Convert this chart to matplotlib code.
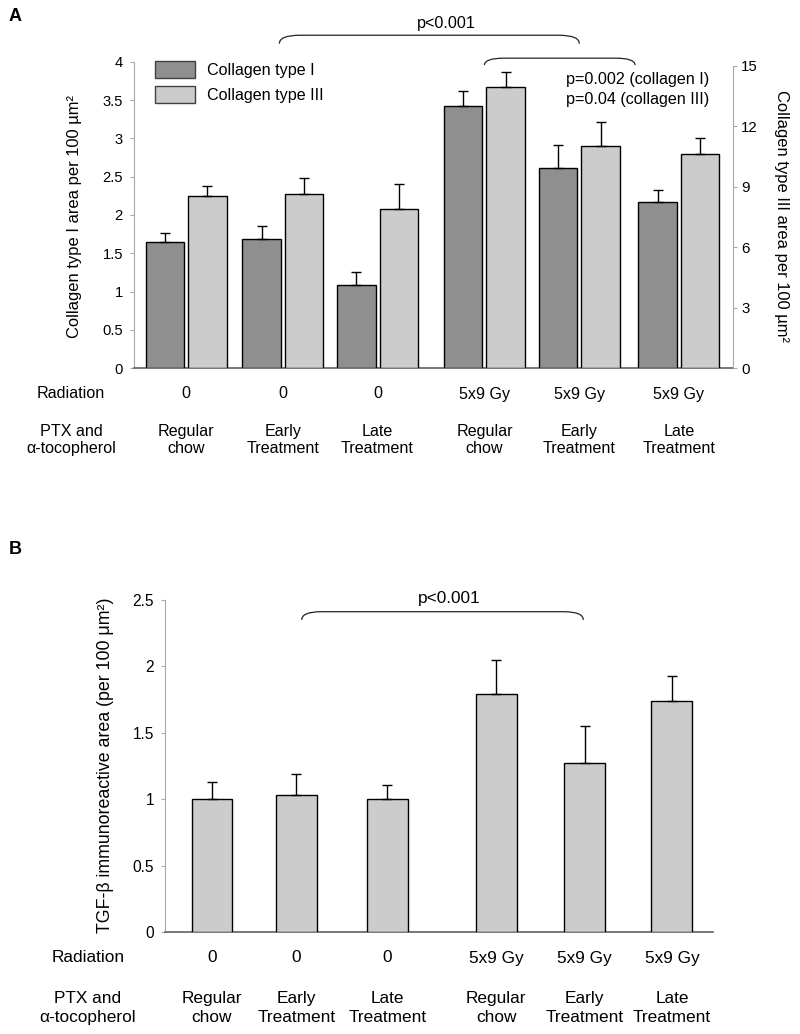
import matplotlib
matplotlib.use("Agg")
import matplotlib.pyplot as plt
import numpy as np
from matplotlib.path import Path
from matplotlib.patches import PathPatch, Patch
import matplotlib.transforms as mtransforms

plt.rcParams['font.family'] = ['Liberation Sans', 'DejaVu Sans']

W, H = 800, 1034

# ---------------- data ----------------
radiation = ["0", "0", "0", "5x9 Gy", "5x9 Gy", "5x9 Gy"]
treatment = ["Regular\nchow", "Early\nTreatment", "Late\nTreatment",
             "Regular\nchow", "Early\nTreatment", "Late\nTreatment"]

col1_mean = [1.65, 1.68, 1.09, 3.43, 2.62, 2.17]
col1_sem = [0.12, 0.17, 0.17, 0.19, 0.29, 0.16]
col3_mean = [8.52, 8.64, 7.92, 13.96, 11.05, 10.62]
col3_sem = [0.54, 0.82, 1.23, 0.76, 1.18, 0.82]

tgf_mean = [1.00, 1.03, 1.00, 1.79, 1.27, 1.74]
tgf_sem = [0.13, 0.16, 0.11, 0.26, 0.28, 0.19]

left_ticks_a = [0, 0.5, 1, 1.5, 2, 2.5, 3, 3.5, 4]
right_ticks_a = [0, 3, 6, 9, 12, 15]
ticks_b = [0, 0.5, 1, 1.5, 2, 2.5]

# ---------------- layout ----------------
pos_a = np.array([0, 1.006, 1.993, 3.107, 4.095, 5.131])
pos_b = np.array([0, 0.937, 1.948, 3.159, 4.141, 5.111])

DARK = '#8f8f8f'
LIGHT = '#cccccc'
AXGRAY = '#a8a8a8'
BOTGRAY = '#606060'

FS_A = 11.6
FS_B = 12.4

fig = plt.figure(figsize=(W / 100, H / 100), dpi=100)


def fy(y):
    return 1 - y / H


def fx(x):
    return x / W


def fmt(v):
    return ('%g' % v)


def style_axis(ax, ts):
    ax.spines['top'].set_visible(False)
    ax.spines['right'].set_visible(False)
    ax.spines['left'].set_color(AXGRAY)
    ax.spines['left'].set_linewidth(0.8)
    ax.spines['bottom'].set_color(BOTGRAY)
    ax.spines['bottom'].set_linewidth(1.2)
    ax.set_xticks([])
    ax.tick_params(axis='y', direction='out', length=3, width=0.8,
                   color=AXGRAY, labelsize=ts, pad=5)


def bracket(ax, x0, x1, ytop, yend, dx):
    verts = [(x0, yend), (x0, ytop), (x0 + dx, ytop),
             (x1 - dx, ytop), (x1, ytop), (x1, yend)]
    codes = [Path.MOVETO, Path.CURVE3, Path.CURVE3,
             Path.LINETO, Path.CURVE3, Path.CURVE3]
    p = PathPatch(Path(verts, codes), fill=False, lw=0.9, ec='#222222',
                  clip_on=False)
    ax.add_patch(p)


err_kw = dict(ecolor='black', elinewidth=1.0, capsize=3.6, capthick=1.0)

# ---------------- Panel A ----------------
axA = fig.add_axes([fx(134), fy(368), 599 / W, 306 / H])
axA2 = axA.twinx()
style_axis(axA, 10.6)
axA2.spines['top'].set_visible(False)
axA2.spines['left'].set_visible(False)
axA2.spines['bottom'].set_visible(False)
axA2.spines['right'].set_color(AXGRAY)
axA2.spines['right'].set_linewidth(0.8)
axA2.tick_params(axis='y', direction='out', length=3, width=0.8,
                 color=AXGRAY, labelsize=10.8, pad=3)

bw = 0.40
off = 0.221
zeros = np.zeros(len(col1_mean))
axA.bar(pos_a - off, col1_mean, bw, color=DARK, edgecolor='black', lw=1.0,
        yerr=[zeros, col1_sem], error_kw=err_kw, zorder=3)
axA2.bar(pos_a + off, col3_mean, bw, color=LIGHT, edgecolor='black', lw=1.0,
         yerr=[zeros, col3_sem], error_kw=err_kw, zorder=3)

axA.set_xlim(-0.544, 5.696)
axA2.set_xlim(-0.544, 5.696)
axA.set_ylim(0, 4)
axA2.set_ylim(0, 15 * 306 / 302)
axA.set_yticks(left_ticks_a)
axA.set_yticklabels([fmt(v) for v in left_ticks_a])
axA2.set_yticks(right_ticks_a)
axA2.set_yticklabels([fmt(v) for v in right_ticks_a])
axA.spines['left'].set_bounds(0, 4)
axA2.spines['right'].set_bounds(0, 15)
axA2.set_xticks([])

# brackets panel A
bracket(axA, 0.97, 4.095, 4.35, 4.24, 0.22)
bracket(axA, 3.107, 4.675, 4.05, 3.96, 0.2)
axA.text(2.706, 4.50, 'p<0.001', ha='center', va='center', fontsize=FS_A,
         clip_on=False)
axA.text(5.446, 3.765, 'p=0.002 (collagen I)', ha='right', va='center',
         fontsize=FS_A)
axA.text(5.446, 3.515, 'p=0.04 (collagen III)', ha='right', va='center',
         fontsize=FS_A)

fig.legend(handles=[Patch(fc=DARK, ec='#404040', lw=1.0),
                    Patch(fc=LIGHT, ec='#404040', lw=1.0)],
           labels=['Collagen type I', 'Collagen type III'],
           loc='upper left', bbox_to_anchor=(fx(155), fy(60.7)),
           frameon=False, borderpad=0, borderaxespad=0, handlelength=2.5,
           handleheight=1.25, handletextpad=0.7, labelspacing=0.5,
           fontsize=FS_A)

fig.text(fx(75), fy(217), 'Collagen type I area per 100 µm²', rotation=90,
         ha='center', va='center', fontsize=11.9)
fig.text(fx(782), fy(216), 'Collagen type III area per 100 µm²', rotation=270,
         ha='center', va='center', fontsize=11.9)
fig.text(fx(15.5), fy(16.5), 'A', fontsize=13, fontweight='bold',
         ha='center', va='center')

transA = mtransforms.blended_transform_factory(axA.transData, fig.transFigure)
fig.text(fx(71), fy(394), 'Radiation', ha='center', va='center', fontsize=FS_A)
fig.text(fx(71), fy(440), 'PTX and\nα-tocopherol', ha='center', va='center',
         fontsize=FS_A, linespacing=1.24)
for x, r, t in zip(pos_a, radiation, treatment):
    axA.text(x, fy(394), r, transform=transA, ha='center', va='center',
             fontsize=FS_A)
    axA.text(x, fy(440), t, transform=transA, ha='center', va='center',
             fontsize=FS_A, linespacing=1.24)

# ---------------- Panel B ----------------
axB = fig.add_axes([fx(165), fy(932.3), 548 / W, 332.3 / H])
style_axis(axB, 11.2)
axB.bar(pos_b, tgf_mean, 0.455, color=LIGHT, edgecolor='black', lw=1.0,
        yerr=[np.zeros(len(tgf_mean)), tgf_sem], error_kw=err_kw, zorder=3)
axB.set_xlim(-0.522, 5.567)
axB.set_ylim(0, 2.5)
axB.set_yticks(ticks_b)
axB.set_yticklabels([fmt(v) for v in ticks_b])

bracket(axB, 0.997, 4.126, 2.412, 2.35, 0.22)
axB.text(2.64, 2.512, 'p<0.001', ha='center', va='center', fontsize=FS_B,
         clip_on=False)

fig.text(fx(106), fy(765), 'TGF-β immunoreactive area (per 100 μm²)',
         rotation=90, ha='center', va='center', fontsize=12.8)
fig.text(fx(15), fy(550), 'B', fontsize=13, fontweight='bold',
         ha='center', va='center')

transB = mtransforms.blended_transform_factory(axB.transData, fig.transFigure)
fig.text(fx(88), fy(958), 'Radiation', ha='center', va='center', fontsize=FS_B)
fig.text(fx(88), fy(1008), 'PTX and\nα-tocopherol', ha='center', va='center',
         fontsize=FS_B, linespacing=1.3)
for x, r, t in zip(pos_b, radiation, treatment):
    axB.text(x, fy(958), r, transform=transB, ha='center', va='center',
             fontsize=FS_B)
    axB.text(x, fy(1008), t, transform=transB, ha='center', va='center',
             fontsize=FS_B, linespacing=1.3)

fig.savefig('out.png', dpi=100)
